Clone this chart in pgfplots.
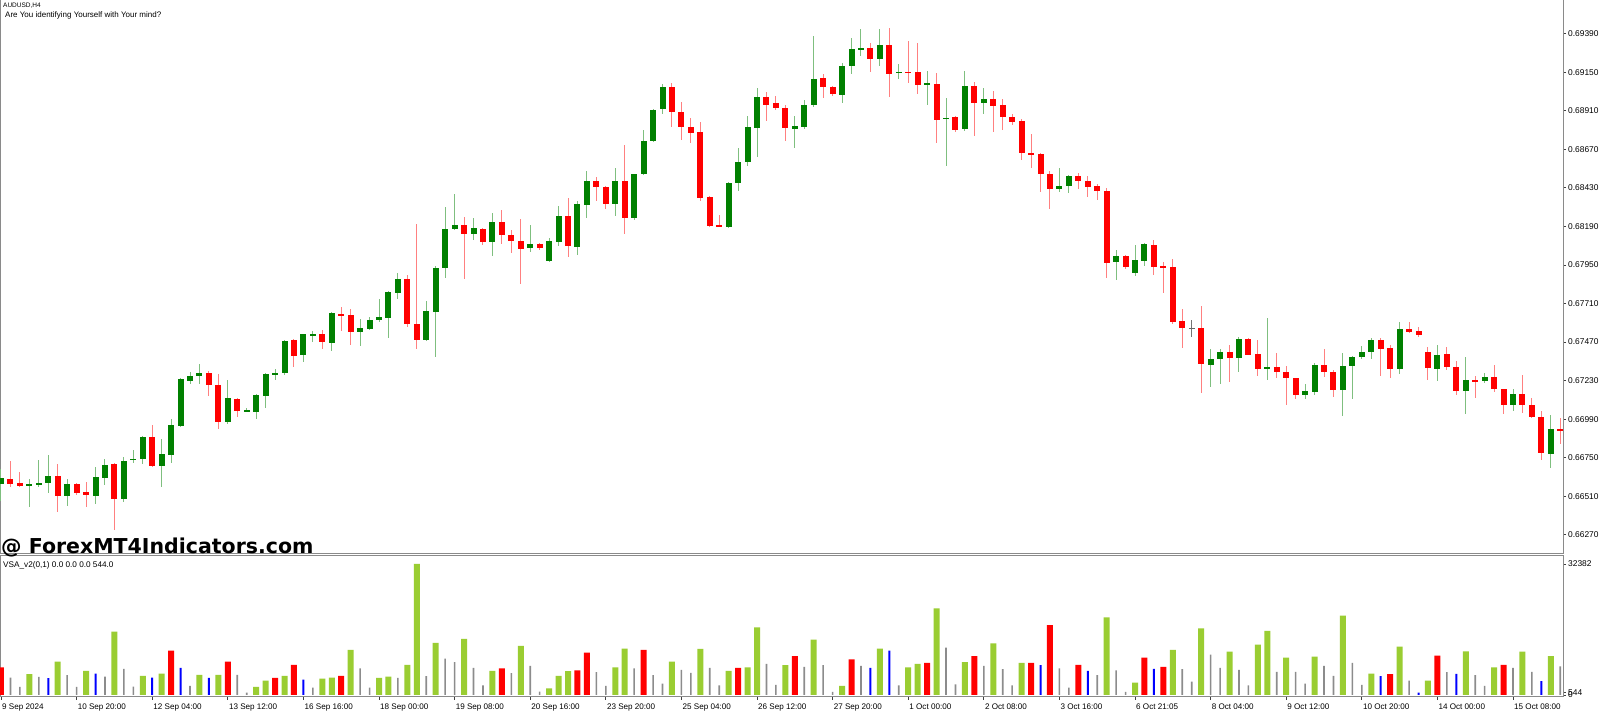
\documentclass[border=0pt]{standalone}
\usepackage{fontspec}
\setmainfont{Liberation Sans}
\newfontfamily\wmfont{DejaVu Sans}
\usepackage{pgfplots}
\pgfplotsset{compat=1.18}
\usepackage{pgfplotstable}
\definecolor{upc}{HTML}{008000}
\definecolor{dnc}{HTML}{FF0000}
\definecolor{upw}{HTML}{7FBF7F}
\definecolor{dnw}{HTML}{FF8080}
\definecolor{vgreen}{HTML}{9ACD32}
\definecolor{vgray}{HTML}{8C8C8C}
\definecolor{vblue}{HTML}{0000FF}
\definecolor{frame}{HTML}{8A8A8A}

\pgfplotstableread{
i o h l c
0 0.66587 0.66680 0.66483 0.66624
1 0.66622 0.66730 0.66568 0.66587
2 0.66592 0.66663 0.66570 0.66576
3 0.66576 0.66618 0.66446 0.66587
4 0.66583 0.66736 0.66570 0.66592
5 0.66594 0.66767 0.66532 0.66639
6 0.66639 0.66710 0.66410 0.66512
7 0.66514 0.66618 0.66450 0.66587
8 0.66587 0.66592 0.66519 0.66532
9 0.66535 0.66599 0.66446 0.66519
10 0.66514 0.66694 0.66462 0.66630
11 0.66626 0.66742 0.66581 0.66707
12 0.66710 0.66718 0.66301 0.66493
13 0.66493 0.66753 0.66473 0.66731
14 0.66736 0.66799 0.66720 0.66744
15 0.66742 0.66885 0.66711 0.66881
16 0.66881 0.66952 0.66694 0.66699
17 0.66699 0.66865 0.66570 0.66772
18 0.66767 0.66990 0.66720 0.66954
19 0.66949 0.67245 0.66944 0.67238
20 0.67230 0.67284 0.67208 0.67259
21 0.67259 0.67332 0.67208 0.67278
22 0.67278 0.67288 0.67137 0.67203
23 0.67205 0.67276 0.66928 0.66971
24 0.66975 0.67234 0.66960 0.67120
25 0.67120 0.67125 0.67006 0.67041
26 0.67041 0.67062 0.67037 0.67047
27 0.67033 0.67144 0.66990 0.67139
28 0.67137 0.67278 0.67058 0.67272
29 0.67270 0.67302 0.67234 0.67280
30 0.67276 0.67484 0.67266 0.67477
31 0.67482 0.67493 0.67317 0.67385
32 0.67390 0.67524 0.67345 0.67519
33 0.67512 0.67541 0.67473 0.67521
34 0.67521 0.67546 0.67425 0.67471
35 0.67467 0.67657 0.67415 0.67651
36 0.67645 0.67691 0.67539 0.67632
37 0.67639 0.67676 0.67454 0.67535
38 0.67535 0.67612 0.67446 0.67560
39 0.67554 0.67629 0.67544 0.67608
40 0.67608 0.67737 0.67597 0.67629
41 0.67622 0.67788 0.67497 0.67782
42 0.67780 0.67899 0.67738 0.67863
43 0.67863 0.67886 0.67566 0.67581
44 0.67583 0.68205 0.67427 0.67486
45 0.67486 0.67726 0.67475 0.67662
46 0.67659 0.67944 0.67375 0.67933
47 0.67931 0.68310 0.67867 0.68175
48 0.68175 0.68393 0.68168 0.68203
49 0.68203 0.68248 0.67861 0.68143
50 0.68141 0.68243 0.68104 0.68179
51 0.68177 0.68181 0.68076 0.68093
52 0.68093 0.68276 0.68004 0.68220
53 0.68216 0.68293 0.68083 0.68139
54 0.68135 0.68166 0.68023 0.68102
55 0.68102 0.68235 0.67834 0.68051
56 0.68056 0.68199 0.68030 0.68081
57 0.68081 0.68089 0.68044 0.68056
58 0.67974 0.68116 0.67969 0.68100
59 0.68095 0.68318 0.68068 0.68255
60 0.68255 0.68366 0.68002 0.68066
61 0.68066 0.68349 0.68012 0.68328
62 0.68324 0.68537 0.68245 0.68475
63 0.68473 0.68496 0.68350 0.68436
64 0.68436 0.68440 0.68297 0.68331
65 0.68331 0.68552 0.68257 0.68475
66 0.68471 0.68697 0.68145 0.68245
67 0.68245 0.68520 0.68229 0.68515
68 0.68515 0.68790 0.68511 0.68722
69 0.68721 0.68922 0.68716 0.68917
70 0.68920 0.69077 0.68888 0.69060
71 0.69057 0.69087 0.68811 0.68901
72 0.68903 0.68965 0.68731 0.68808
73 0.68808 0.68866 0.68708 0.68774
74 0.68778 0.68840 0.68349 0.68366
75 0.68374 0.68380 0.68185 0.68193
76 0.68199 0.68261 0.68185 0.68188
77 0.68188 0.68467 0.68184 0.68463
78 0.68463 0.68680 0.68413 0.68594
79 0.68590 0.68879 0.68568 0.68808
80 0.68805 0.69052 0.68624 0.68998
81 0.68998 0.69031 0.68849 0.68950
82 0.68957 0.69003 0.68915 0.68926
83 0.68928 0.68947 0.68724 0.68802
84 0.68797 0.68877 0.68680 0.68815
85 0.68811 0.68977 0.68797 0.68945
86 0.68945 0.69376 0.68932 0.69110
87 0.69114 0.69140 0.68992 0.69059
88 0.69059 0.69063 0.69003 0.69015
89 0.69011 0.69206 0.68959 0.69187
90 0.69187 0.69367 0.69140 0.69294
91 0.69294 0.69418 0.69251 0.69301
92 0.69301 0.69331 0.69150 0.69231
93 0.69231 0.69418 0.69189 0.69318
94 0.69320 0.69428 0.68995 0.69144
95 0.69148 0.69204 0.69106 0.69154
96 0.69154 0.69347 0.69082 0.69148
97 0.69150 0.69332 0.69017 0.69073
98 0.69076 0.69157 0.68949 0.69082
99 0.69079 0.69148 0.68712 0.68855
100 0.68858 0.68990 0.68566 0.68868
101 0.68868 0.68878 0.68780 0.68791
102 0.68795 0.69159 0.68785 0.69065
103 0.69065 0.69089 0.68755 0.68959
104 0.68959 0.69052 0.68892 0.68984
105 0.68986 0.69033 0.68780 0.68942
106 0.68950 0.68986 0.68791 0.68870
107 0.68872 0.68888 0.68823 0.68840
108 0.68845 0.68861 0.68603 0.68646
109 0.68648 0.68764 0.68556 0.68640
110 0.68643 0.68648 0.68406 0.68517
111 0.68515 0.68535 0.68301 0.68421
112 0.68421 0.68552 0.68402 0.68440
113 0.68444 0.68511 0.68400 0.68504
114 0.68504 0.68523 0.68423 0.68473
115 0.68475 0.68504 0.68376 0.68438
116 0.68442 0.68457 0.68357 0.68413
117 0.68413 0.68432 0.67871 0.67965
118 0.67965 0.68044 0.67857 0.68006
119 0.68006 0.68011 0.67929 0.67940
120 0.67903 0.68075 0.67882 0.67981
121 0.67977 0.68089 0.67946 0.68079
122 0.68077 0.68106 0.67890 0.67940
123 0.67944 0.67969 0.67775 0.67933
124 0.67940 0.67987 0.67581 0.67597
125 0.67600 0.67675 0.67435 0.67556
126 0.67558 0.67608 0.67500 0.67558
127 0.67558 0.67695 0.67153 0.67332
128 0.67328 0.67427 0.67189 0.67363
129 0.67363 0.67427 0.67210 0.67411
130 0.67411 0.67452 0.67221 0.67373
131 0.67373 0.67501 0.67285 0.67490
132 0.67490 0.67493 0.67386 0.67390
133 0.67396 0.67486 0.67259 0.67300
134 0.67300 0.67620 0.67232 0.67315
135 0.67315 0.67401 0.67249 0.67285
136 0.67285 0.67319 0.67078 0.67245
137 0.67245 0.67250 0.67114 0.67141
138 0.67141 0.67210 0.67116 0.67164
139 0.67161 0.67342 0.67137 0.67326
140 0.67330 0.67425 0.67255 0.67285
141 0.67285 0.67296 0.67128 0.67170
142 0.67170 0.67401 0.67011 0.67321
143 0.67323 0.67384 0.67118 0.67377
144 0.67375 0.67444 0.67363 0.67411
145 0.67407 0.67495 0.67365 0.67482
146 0.67484 0.67493 0.67261 0.67427
147 0.67434 0.67450 0.67247 0.67304
148 0.67304 0.67593 0.67272 0.67550
149 0.67554 0.67597 0.67530 0.67533
150 0.67539 0.67563 0.67500 0.67516
151 0.67411 0.67439 0.67232 0.67307
152 0.67302 0.67452 0.67226 0.67392
153 0.67396 0.67439 0.67294 0.67317
154 0.67315 0.67351 0.67139 0.67167
155 0.67167 0.67377 0.67022 0.67234
156 0.67232 0.67257 0.67125 0.67226
157 0.67230 0.67276 0.67214 0.67251
158 0.67257 0.67330 0.67161 0.67178
159 0.67178 0.67181 0.67020 0.67077
160 0.67080 0.67178 0.67041 0.67151
161 0.67151 0.67264 0.67027 0.67080
162 0.67082 0.67120 0.66998 0.67002
163 0.67006 0.67041 0.66734 0.66782
164 0.66773 0.67016 0.66684 0.66929
165 0.66929 0.66996 0.66836 0.66915
}\candles

\pgfplotstableread{
i v k
0 6808 2
1 4318 4
2 1993 4
3 5148 1
4 4484 4
5 4152 3
6 8220 1
7 4899 4
8 1993 4
9 5978 1
10 5314 3
11 4567 4
12 15693 1
13 6476 4
14 2076 4
15 4733 1
16 4318 3
17 5314 1
18 10960 2
19 6725 3
20 2242 4
21 4982 1
22 4235 3
23 4982 1
24 8220 2
25 4982 4
26 581 4
27 1993 1
28 3570 1
29 4235 2
30 4733 1
31 7473 2
32 3819 3
33 1827 4
34 4068 1
35 4318 1
36 4733 2
37 11126 1
38 6559 4
39 1827 4
40 4235 1
41 4567 1
42 4235 4
43 7473 1
44 32382 1
45 4650 4
46 12870 1
47 8967 4
48 8137 4
49 13866 1
50 6725 4
51 2408 4
52 5978 1
53 6559 2
54 5397 4
55 12122 1
56 7224 4
57 830 4
58 1661 1
59 4733 1
60 5895 1
61 6061 2
62 10462 2
63 5646 4
64 2242 4
65 6808 1
66 11458 1
67 6559 4
68 11126 2
69 4899 4
70 2823 4
71 8220 1
72 6227 4
73 5480 4
74 11375 1
75 6725 4
76 2408 4
77 5978 1
78 6725 2
79 6808 1
80 16689 1
81 7722 4
82 2491 4
83 7390 1
84 9631 2
85 6975 4
86 13700 1
87 7390 4
88 747 4
89 2242 1
90 8801 2
91 7224 4
92 6725 3
93 11458 1
94 10960 3
95 2408 4
96 6808 1
97 7722 1
98 7971 2
99 21422 1
100 11707 4
101 2657 4
102 8137 1
103 9631 2
104 7224 4
105 12787 1
106 6393 4
107 2408 4
108 7971 1
109 7971 2
110 7390 3
111 17270 2
112 6559 4
113 1827 4
114 7473 2
115 5978 3
116 4899 4
117 19180 1
118 6061 4
119 747 4
120 3072 1
121 9216 2
122 6476 3
123 6975 2
124 11126 1
125 6393 4
126 3321 4
127 16440 1
128 9964 4
129 6725 4
130 10711 1
131 6227 4
132 2408 4
133 12455 1
134 15859 1
135 5729 4
136 9216 1
137 5729 4
138 2823 4
139 9465 1
140 7224 4
141 4733 4
142 19595 1
143 7971 4
144 2491 4
145 5314 1
146 4650 3
147 5148 2
148 11956 1
149 3570 4
150 581 3
151 3570 1
152 9715 2
153 5646 4
154 5231 3
155 10794 1
156 4899 4
157 2242 4
158 6808 1
159 7473 2
160 6725 4
161 10711 1
162 5729 4
163 3404 3
164 9631 1
165 7058 4
}\vol

\begin{document}
\begin{tikzpicture}[x=1pt,y=1pt]
\path[use as bounding box, fill=white] (0,0) rectangle (1600,714);

\begin{axis}[
  at={(0pt,714pt)}, anchor=north west, scale only axis,
  width=1563pt, height=554pt,
  xmin=-0.1058, xmax=165.29, ymin=0.661506, ymax=0.695998,
  axis line style={draw=frame, line width=1pt},
  xtick=\empty,
  ytick={0.66270,0.66510,0.66750,0.66990,0.67230,0.67470,0.67710,0.67950,0.68190,0.68430,0.68670,0.68910,0.69150,0.69390},
  ytick pos=right, yticklabel pos=right,
  tick align=outside, major tick length=3pt,
  tick style={black!75, line width=0.8pt},
  scaled y ticks=false,
  yticklabel style={font=\fontsize{8.4}{9}\selectfont, inner sep=0pt, anchor=west, xshift=2pt,
    /pgf/number format/.cd, fixed, fixed zerofill, precision=5, assume math mode=true},
]
% wicks
\addplot[draw=none, mark=none,
  restrict expr to domain={\thisrow{c}-\thisrow{o}}{0.000001:1},
  error bars/.cd, y dir=both, y explicit, error mark=none,
  error bar style={draw=upw, line width=1pt}]
  table[x=i, y expr={(\thisrow{h}+\thisrow{l})/2}, y error expr={(\thisrow{h}-\thisrow{l})/2}] {\candles};
\addplot[draw=none, mark=none,
  restrict expr to domain={\thisrow{c}-\thisrow{o}}{-1:-0.000001},
  error bars/.cd, y dir=both, y explicit, error mark=none,
  error bar style={draw=dnw, line width=1pt}]
  table[x=i, y expr={(\thisrow{h}+\thisrow{l})/2}, y error expr={(\thisrow{h}-\thisrow{l})/2}] {\candles};
\addplot[draw=none, mark=none,
  restrict expr to domain={\thisrow{c}-\thisrow{o}}{-0.000001:0.000001},
  error bars/.cd, y dir=both, y explicit, error mark=none,
  error bar style={draw=black!55, line width=1pt}]
  table[x=i, y expr={(\thisrow{h}+\thisrow{l})/2}, y error expr={(\thisrow{h}-\thisrow{l})/2}] {\candles};
% bodies
\addplot[draw=none, mark=none,
  restrict expr to domain={\thisrow{c}-\thisrow{o}}{0.000001:1},
  error bars/.cd, y dir=both, y explicit, error mark=none,
  error bar style={draw=upc, line width=6pt}]
  table[x=i, y expr={(\thisrow{o}+\thisrow{c})/2}, y error expr={max(abs(\thisrow{c}-\thisrow{o})/2,0.00003)}] {\candles};
\addplot[draw=none, mark=none,
  restrict expr to domain={\thisrow{c}-\thisrow{o}}{-1:-0.000001},
  error bars/.cd, y dir=both, y explicit, error mark=none,
  error bar style={draw=dnc, line width=6pt}]
  table[x=i, y expr={(\thisrow{o}+\thisrow{c})/2}, y error expr={max(abs(\thisrow{c}-\thisrow{o})/2,0.00003)}] {\candles};
\addplot[draw=none, mark=none,
  restrict expr to domain={\thisrow{c}-\thisrow{o}}{-0.000001:0.000001},
  error bars/.cd, y dir=both, y explicit, error mark=none,
  error bar style={draw=black!60, line width=6pt}]
  table[x=i, y expr={(\thisrow{o}+\thisrow{c})/2}, y error expr={0.00003}] {\candles};
\end{axis}

\begin{axis}[
  at={(0pt,17pt)}, anchor=south west, scale only axis,
  width=1563pt, height=141pt,
  xmin=-0.1058, xmax=165.29, ymin=-494, ymax=34360,
  axis line style={draw=frame, line width=1pt},
  xtick={0,8,...,160},
  xticklabels={9 Sep 2024,10 Sep 20:00,12 Sep 04:00,13 Sep 12:00,16 Sep 16:00,18 Sep 00:00,19 Sep 08:00,20 Sep 16:00,23 Sep 20:00,25 Sep 04:00,26 Sep 12:00,27 Sep 20:00,1 Oct 00:00,2 Oct 08:00,3 Oct 16:00,6 Oct 21:05,8 Oct 04:00,9 Oct 12:00,10 Oct 20:00,14 Oct 00:00,15 Oct 08:00},
  xtick pos=bottom,
  xticklabel style={font=\fontsize{8.1}{9}\selectfont, anchor=north west, inner sep=0pt, xshift=1pt, yshift=-4pt},
  ytick={0,544,32382},
  ytick pos=right, yticklabel pos=right,
  tick align=outside, major tick length=3pt,
  tick style={black!75, line width=0.8pt},
  scaled y ticks=false,
  yticklabel style={font=\fontsize{8.4}{9}\selectfont, inner sep=0pt, anchor=west, xshift=2pt,
    /pgf/number format/.cd, fixed, precision=0, 1000 sep={}, assume math mode=true},
]
\addplot[ybar, bar width=6pt, bar shift=0pt, fill=vgreen, draw=none,
  restrict expr to domain={\thisrow{k}}{0.5:1.5}] table[x=i, y=v] {\vol};
\addplot[ybar, bar width=6pt, bar shift=0pt, fill=dnc, draw=none,
  restrict expr to domain={\thisrow{k}}{1.5:2.5}] table[x=i, y=v] {\vol};
\addplot[ybar, bar width=2pt, bar shift=0pt, fill=vblue, draw=none,
  restrict expr to domain={\thisrow{k}}{2.5:3.5}] table[x=i, y=v] {\vol};
\addplot[ybar, bar width=1.6pt, bar shift=0pt, fill=vgray, draw=none,
  restrict expr to domain={\thisrow{k}}{3.5:4.5}] table[x=i, y=v] {\vol};
\end{axis}

\node[anchor=west, inner sep=0pt, font=\fontsize{6.5}{7}\selectfont] at (3,708.7) {AUDUSD,H4};
\node[anchor=west, inner sep=0pt, font=\fontsize{8}{9}\selectfont] at (5,698.3) {Are You identifying Yourself with Your mind?};
\node[anchor=west, inner sep=0pt, font=\fontsize{8.2}{9}\selectfont] at (3,149) {VSA\_v2(0,1) 0.0 0.0 0.0 544.0};
\node[anchor=base west, inner sep=0pt, font=\wmfont\bfseries\fontsize{20.5}{22}\selectfont] at (1,160.5) {@ ForexMT4Indicators.com};
\end{tikzpicture}
\end{document}
